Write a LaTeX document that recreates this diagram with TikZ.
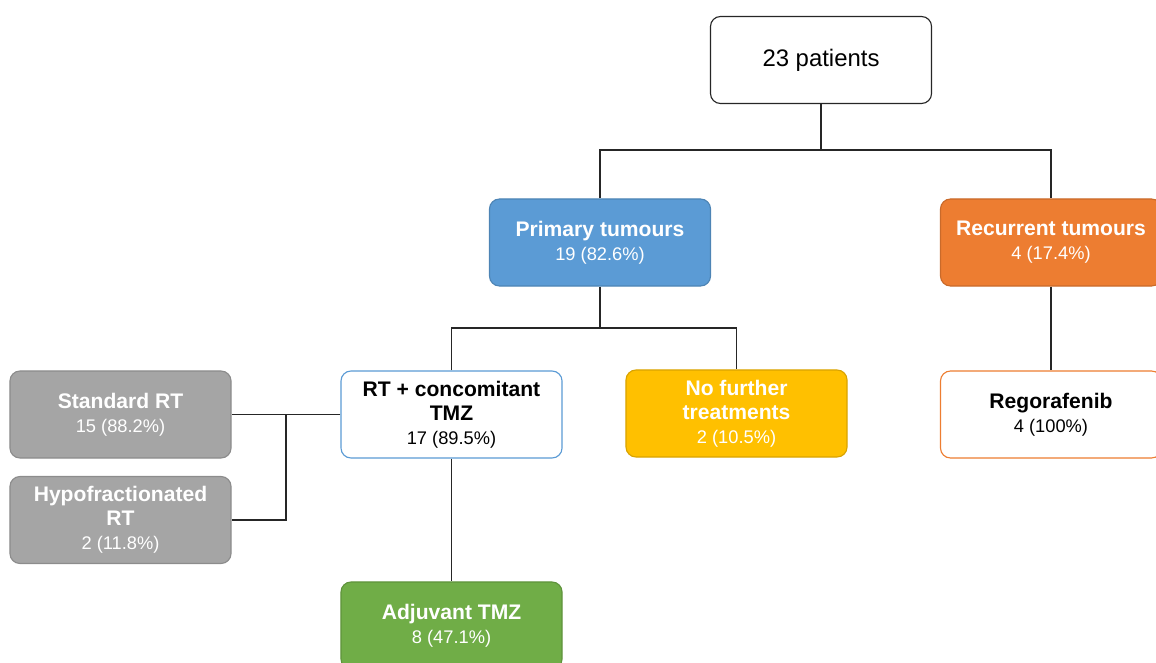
\documentclass[tikz,border=0pt]{standalone}
\usepackage{fontspec}
\setmainfont{Liberation Sans}
\usepackage{tikz}

\definecolor{boxBlue}{HTML}{5B9BD5}
\definecolor{boxOrange}{HTML}{ED7D31}
\definecolor{boxYellow}{HTML}{FFC000}
\definecolor{boxGreen}{HTML}{70AD47}
\definecolor{boxGrey}{HTML}{A5A5A5}

\tikzset{
	box/.style={rounded corners=0.25cm, minimum width=5.525cm, minimum height=2.175cm, align=center, line width=0.8pt, font=\fontsize{13}{17}\selectfont},
	conn/.style={-, line width=1pt, black!85}
}
\newcommand{\ttl}[1]{{\fontsize{15}{17}\selectfont\bfseries #1}}

\begin{document}
\begin{tikzpicture}[x=0.025cm, y=-0.025cm]
				
				\useasboundingbox (0,0) rectangle (1156,663);
				
				\node[box, draw=black!85, fill=white, font=\fontsize{17}{20}\selectfont] (Patients) at (821,60) {23 patients};
				
				\node[box, draw=boxBlue!85!black, fill=boxBlue, text=white] (Primary) at (600,242.5) {\ttl{Primary tumours}\\19 (82.6\%)};
				\node[box, draw=boxOrange!85!black, fill=boxOrange, text=white] (Recurrent) at (1051,242.5) {\ttl{Recurrent tumours}\\4 (17.4\%)};
				
				\node[box, draw=boxBlue, fill=white] (RTTMZ) at (451.5,414.5) {\ttl{RT + concomitant}\\\ttl{TMZ}\\17 (89.5\%)};
				\node[box, draw=boxYellow!85!black, fill=boxYellow, text=white] (NoFurther) at (736.5,413.5) {\ttl{No further}\\\ttl{treatments}\\2 (10.5\%)};
				\node[box, draw=boxOrange, fill=white] (Regorafenib) at (1051,414.5) {\ttl{Regorafenib}\\4 (100\%)};
				
				\node[box, draw=boxGrey!85!black, fill=boxGrey, text=white] (StdRT) at (120.5,414.5) {\ttl{Standard RT}\\15 (88.2\%)};
				\node[box, draw=boxGrey!85!black, fill=boxGrey, text=white] (HypoRT) at (120.5,520) {\ttl{Hypofractionated}\\\ttl{RT}\\2 (11.8\%)};
				
				\node[box, draw=boxGreen!85!black, fill=boxGreen, text=white] (AdjTMZ) at (451.5,625.5) {\ttl{Adjuvant TMZ}\\8 (47.1\%)};
				
				% branch points
				\coordinate (split1) at (821,150);
				\coordinate (split2) at (600,328);
				\coordinate (split3) at (286,414.5);
				
				\draw[conn] (Patients.south) -- (split1);
				\draw[conn] (Primary.north) |- (split1) -| (Recurrent.north);
				
				\draw[conn] (Primary.south) -- (split2);
				\draw[conn] (RTTMZ.north) |- (split2) -| (NoFurther.north);
				\draw[conn] (Recurrent.south) -- (Regorafenib.north);
				
				\draw[conn] (RTTMZ.west) -- (StdRT.east);
				\draw[conn] (split3) |- (HypoRT.east);
				\draw[conn] (RTTMZ.south) -- (AdjTMZ.north);
				
			\end{tikzpicture}
\end{document}
